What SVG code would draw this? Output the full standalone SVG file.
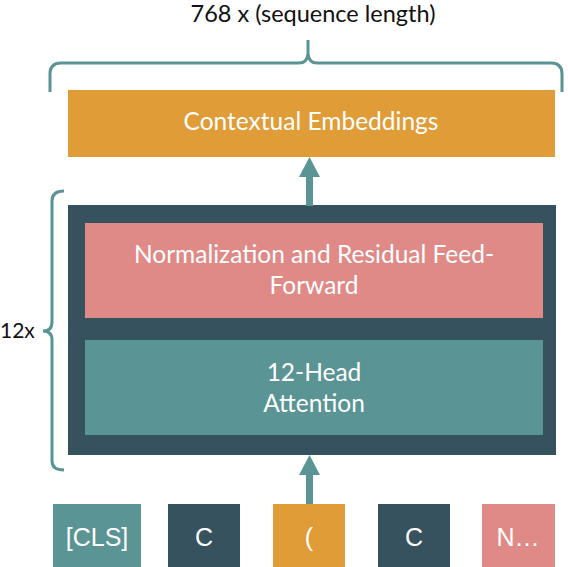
<svg xmlns="http://www.w3.org/2000/svg" width="568" height="567" viewBox="0 0 568 567">
<style>
.lbl{font-family:Lato,"Open Sans","Liberation Sans",sans-serif;font-size:24.5px;fill:#fff;text-anchor:middle}
.tok{font-family:"Liberation Sans",Arial,sans-serif;font-size:25px;fill:#fff;text-anchor:middle}
.blk{font-family:Lato,"Open Sans","Liberation Sans",sans-serif;font-size:24px;fill:#111;}
.brace{fill:none;stroke:#5A9494;stroke-width:3}
</style>
<rect width="568" height="567" fill="#fff"/>
<g id="title"><text class="blk" x="313" y="22" text-anchor="middle" style="font-size:23.5px">768 x (sequence length)</text></g>
<g id="brace-top"><path class="brace" d="M50,92 L50,74 Q50,63 61,63 L299,63 Q307,63 308,54 L308,40 M308,54 Q309,63 317,63 L551,63 Q562,63 562,74 L562,92"/></g>
<g id="brace-left"><path class="brace" d="M64,191 Q52,191 52,201 L52,322 Q52,331 43,331 Q52,331 52,340 L52,461 Q52,470 64,470"/><text class="blk" x="0" y="338" style="font-size:21px">12x</text></g>
<g id="contextual"><rect x="68" y="90" width="487" height="67" fill="#DF9C37"/><text class="lbl" x="311" y="130">Contextual Embeddings</text></g>
<g id="encoder"><rect x="68" y="205" width="488" height="250" fill="#36525F"/></g>
<g id="ffn"><rect x="85" y="223" width="458" height="95" fill="#E08A87"/><text class="lbl" x="314" y="263">Normalization and Residual Feed-</text><text class="lbl" x="314" y="294">Forward</text></g>
<g id="attention"><rect x="85" y="340" width="458" height="95" fill="#5A9494"/><text class="lbl" x="314" y="381">12-Head</text><text class="lbl" x="314" y="412">Attention</text></g>
<g id="tokens">
<g id="tok-cls"><rect x="53" y="504" width="88" height="63" fill="#5A9494"/><text class="tok" x="97" y="546">[CLS]</text></g>
<g id="tok-c1"><rect x="168" y="504" width="72" height="63" fill="#36525F"/><text class="tok" x="204" y="546">C</text></g>
<g id="tok-paren"><rect x="273" y="504" width="72" height="63" fill="#DF9C37"/><text class="tok" x="309" y="546">(</text></g>
<g id="tok-c2"><rect x="378" y="504" width="72" height="63" fill="#36525F"/><text class="tok" x="414" y="546">C</text></g>
<g id="tok-n"><rect x="482" y="504" width="73" height="63" fill="#E08A87"/><text class="tok" x="518" y="546">N…</text></g>
</g>
<g id="connectors" fill="#5A9494">
<path d="M306,206 L306,177 L299,177 L309.5,157 L320,177 L313,177 L313,206 Z"/>
<path d="M306,504 L306,475 L299,475 L309.5,455 L320,475 L313,475 L313,504 Z"/>
</g>
</svg>
